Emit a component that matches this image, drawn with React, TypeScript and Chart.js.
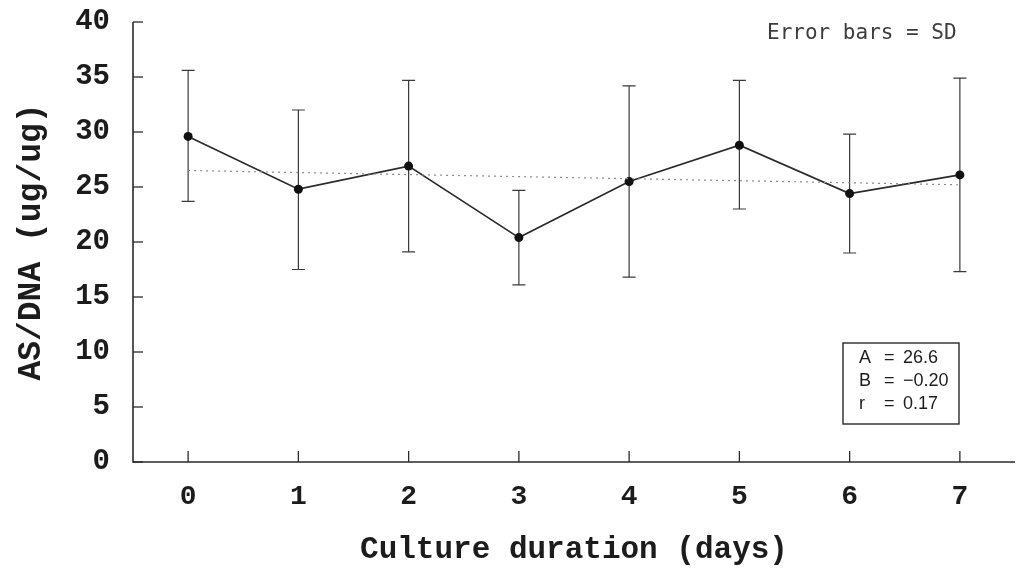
import React, { useEffect, useRef } from 'react';
import { Chart, registerables } from 'chart.js';

Chart.register(...registerables);

// ---- data ----
const days = ['0', '1', '2', '3', '4', '5', '6', '7'];
const meanRatio = [29.6, 24.8, 26.9, 20.4, 25.5, 28.8, 24.4, 26.1];
const sdHigh = [35.6, 32.0, 34.7, 24.7, 34.2, 34.7, 29.8, 34.9];
const sdLow = [23.7, 17.5, 19.1, 16.1, 16.8, 23.0, 19.0, 17.3];
const trendDays = ['0', '7'];
const trendValues = [26.5, 25.2];
const statNames = ['A', 'B', 'r'];
const statValues = ['26.6', '\u22120.20', '0.17'];
const noteText = 'Error bars = SD';
const xTitle = 'Culture duration (days)';
const yTitle = 'AS/DNA (ug/ug)';

const INK = '#1c1c1c';
const MONO = "'Liberation Mono', 'Courier New', monospace";

const decorPlugin = {
  id: 'decor',
  beforeDatasetsDraw(chart: any) {
    const { ctx, chartArea, scales } = chart;
    const x = scales.x;
    const y = scales.y;
    ctx.save();
    // axes
    ctx.strokeStyle = '#2a2a2a';
    ctx.lineWidth = 1.6;
    ctx.beginPath();
    ctx.moveTo(chartArea.left, chartArea.top);
    ctx.lineTo(chartArea.left, chartArea.bottom);
    ctx.lineTo(chartArea.right, chartArea.bottom);
    ctx.stroke();
    // y ticks (inward)
    ctx.lineWidth = 1.3;
    y.ticks.forEach((t: any) => {
      const py = y.getPixelForValue(t.value);
      ctx.beginPath();
      ctx.moveTo(chartArea.left, py);
      ctx.lineTo(chartArea.left + 10, py);
      ctx.stroke();
    });
    // x ticks (upward)
    days.forEach((_d, i) => {
      const px = x.getPixelForValue(i);
      ctx.beginPath();
      ctx.moveTo(px, chartArea.bottom);
      ctx.lineTo(px, chartArea.bottom - 11);
      ctx.stroke();
    });
    // error bars
    ctx.strokeStyle = '#3a3a3a';
    ctx.lineWidth = 1.2;
    days.forEach((_d, i) => {
      const px = x.getPixelForValue(i);
      const top = y.getPixelForValue(sdHigh[i]);
      const bot = y.getPixelForValue(sdLow[i]);
      ctx.beginPath();
      ctx.moveTo(px, top);
      ctx.lineTo(px, bot);
      ctx.moveTo(px - 6.5, top);
      ctx.lineTo(px + 6.5, top);
      ctx.moveTo(px - 6.5, bot);
      ctx.lineTo(px + 6.5, bot);
      ctx.stroke();
    });
    ctx.restore();
  },
  afterDraw(chart: any) {
    const { ctx, chartArea } = chart;
    ctx.save();
    // note text
    ctx.fillStyle = '#3c3c3c';
    ctx.font = "21px 'DejaVu Sans Mono', monospace";
    ctx.textAlign = 'left';
    ctx.textBaseline = 'middle';
    ctx.fillText(noteText, chartArea.right - 248, chartArea.top + 12);
    // stats box
    const bx = chartArea.right - 172;
    const by = chartArea.bottom - 119;
    const bw = 116;
    const bh = 81;
    ctx.strokeStyle = '#2a2a2a';
    ctx.lineWidth = 1.4;
    ctx.strokeRect(bx, by, bw, bh);
    ctx.fillStyle = INK;
    ctx.font = "18px 'Liberation Sans', Arial, sans-serif";
    statNames.forEach((n, i) => {
      const ly = by + 15 + i * 23;
      ctx.textAlign = 'left';
      ctx.fillText(n, bx + 16, ly);
      ctx.fillText('=', bx + 41, ly);
      ctx.fillText(statValues[i], bx + 60, ly);
    });
    ctx.restore();
  },
};

export default function App() {
  const canvasRef = useRef<HTMLCanvasElement | null>(null);

  useEffect(() => {
    document.body.style.margin = '0';
    const canvas = canvasRef.current;
    if (!canvas) return;
    const chart = new Chart(canvas, {
      type: 'line',
      data: {
        labels: days,
        datasets: [
          {
            label: 'trend',
            data: trendDays.map((d, i) => ({ x: d, y: trendValues[i] })),
            borderColor: '#8a8a8a',
            borderWidth: 1.2,
            borderDash: [2, 4],
            pointRadius: 0,
            fill: false,
            tension: 0,
          },
          {
            label: 'AS/DNA',
            data: meanRatio,
            borderColor: '#2a2a2a',
            borderWidth: 1.7,
            pointRadius: 4.5,
            pointBackgroundColor: '#111',
            pointBorderColor: '#111',
            pointBorderWidth: 0,
            fill: false,
            tension: 0,
          },
        ],
      },
      options: {
        animation: false,
        responsive: false,
        layout: { padding: { top: 22, right: 5, left: 0, bottom: 0 } },
        plugins: { legend: { display: false }, tooltip: { enabled: false } },
        scales: {
          x: {
            type: 'category',
            offset: true,
            grid: { display: false, drawTicks: false },
            border: { display: false },
            ticks: {
              font: { family: MONO, size: 28, weight: 'bold' },
              color: INK,
              padding: 18,
              maxRotation: 0,
            },
            title: {
              display: true,
              text: xTitle,
              font: { family: MONO, size: 31, weight: 'bold' },
              color: INK,
              padding: { top: 0, bottom: 4 },
            },
            afterFit: (s: any) => {
              s.height = 111;
            },
          },
          y: {
            min: 0,
            max: 40,
            grid: { display: false, drawTicks: false },
            border: { display: false },
            ticks: {
              stepSize: 5,
              font: { family: MONO, size: 29, weight: 'bold' },
              color: INK,
              padding: 23,
            },
            title: {
              display: true,
              text: yTitle,
              font: { family: MONO, size: 33, weight: 'bold' },
              color: INK,
              padding: { top: 12, bottom: 0 },
            },
            afterFit: (s: any) => {
              s.width = 133;
              s.paddingTop = 0;
              s.paddingBottom = 0;
            },
          },
        },
      },
      plugins: [decorPlugin],
    });
    return () => chart.destroy();
  }, []);

  return (
    <div style={{ width: 1020, height: 573, background: '#fff' }}>
      <canvas ref={canvasRef} width={1020} height={573} />
    </div>
  );
}
